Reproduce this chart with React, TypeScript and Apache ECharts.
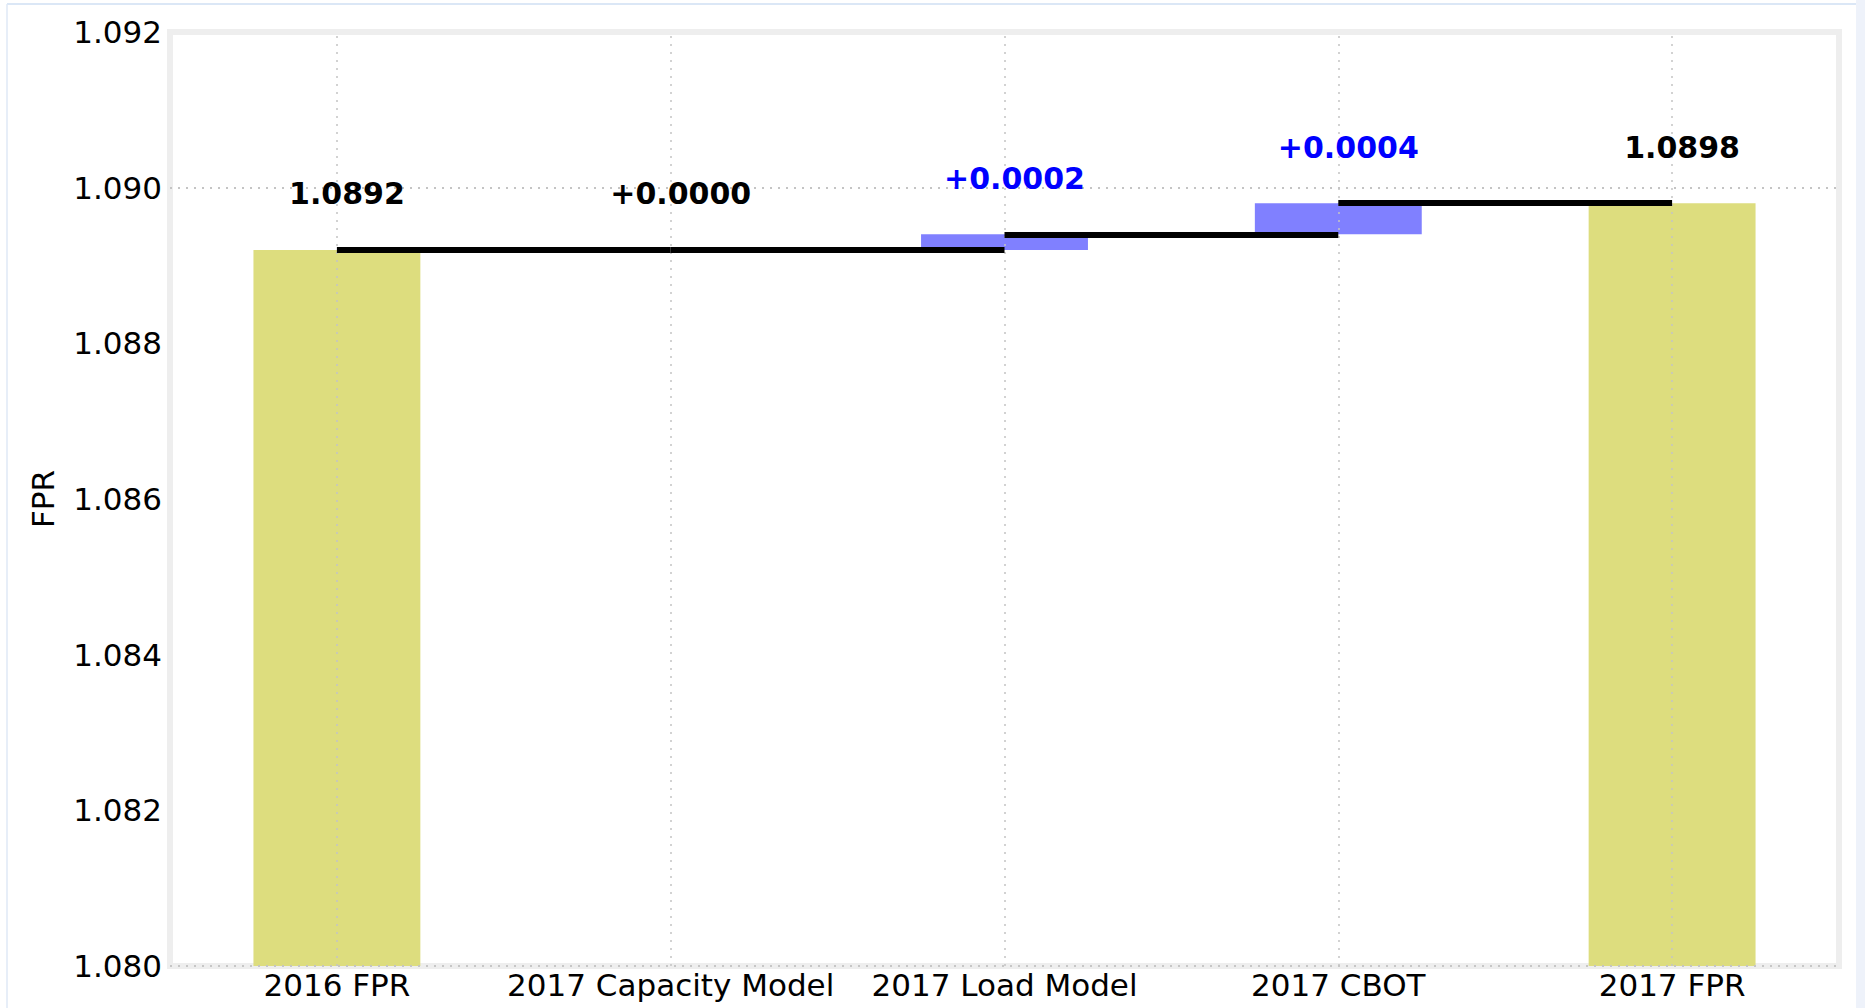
import React, { useEffect, useRef } from "react";
import * as echarts from "echarts";

const categories = ["2016 FPR", "2017 Capacity Model", "2017 Load Model", "2017 CBOT", "2017 FPR"];
const baseValues = [0, 1.0892, 1.0892, 1.0894, 0];
const barValues = [1.0892, 0, 0.0002, 0.0004, 1.0898];
const barKinds = ["total", "delta", "delta", "delta", "total"];
const labelTexts = ["1.0892", "+0.0000", "+0.0002", "+0.0004", "1.0898"];
const labelColors = ["#000000", "#000000", "#0000ff", "#0000ff", "#000000"];
const connectorLevels = [1.0892, 1.0892, 1.0894, 1.0898];
const yTicks = [1.082, 1.084, 1.086, 1.088, 1.09];
const yMin = 1.08;
const yMax = 1.092;
const yStep = 0.002;

const FONT = "DejaVu Sans";
const gridDot = { color: "#c4c4c4", width: 1.5, type: [2, 6] as number[] };

export default function App() {
  const ref = useRef<HTMLDivElement>(null);
  useEffect(() => {
    if (!ref.current) return;
    const chart = echarts.init(ref.current, null, { renderer: "svg" });
    const tops = baseValues.map((b, i) => b + barValues[i]);
    chart.setOption({
      animation: false,
      backgroundColor: "#ffffff",
      textStyle: { fontFamily: FONT },
      graphic: [
        { type: "line", shape: { x1: 7, y1: 4, x2: 1856, y2: 4 }, style: { stroke: "#cfdff3", lineWidth: 1.5 } },
        { type: "line", shape: { x1: 7, y1: 4, x2: 7, y2: 1008 }, style: { stroke: "#dfe8f6", lineWidth: 1.5 } },
        { type: "rect", shape: { x: 1856, y: 0, width: 9, height: 1008 }, style: { fill: "#eef2fa" } },
      ],
      grid: {
        left: 170,
        right: 26,
        top: 32,
        bottom: 42,
        show: true,
        borderColor: "#eeeeee",
        borderWidth: 6,
        backgroundColor: "#ffffff",
      },
      xAxis: {
        type: "category",
        data: categories,
        boundaryGap: true,
        axisLine: { show: false },
        axisTick: { show: false },
        splitLine: { show: false },
        axisLabel: { color: "#000", fontSize: 31, fontFamily: FONT, margin: 3, interval: 0 },
      },
      yAxis: {
        type: "value",
        min: yMin,
        max: yMax,
        interval: yStep,
        name: "FPR",
        nameLocation: "middle",
        nameGap: 112,
        nameTextStyle: { color: "#000", fontSize: 31, fontFamily: FONT },
        axisLine: { show: false },
        axisTick: { show: false },
        splitLine: { show: false },
        axisLabel: {
          color: "#000",
          fontSize: 31,
          fontFamily: FONT,
          margin: 8,
          formatter: (v: number) => v.toFixed(3),
        },
      },
      series: [
        {
          name: "base",
          type: "bar",
          stack: "w",
          z: 3,
          barWidth: "50%",
          data: baseValues,
          itemStyle: { color: "transparent" },
          silent: true,
          markLine: {
            silent: true,
            symbol: ["none", "none"],
            label: { show: false },
            lineStyle: gridDot,
            data: [
              ...categories.map((_, i) => ({ xAxis: i })),
              ...yTicks.map((v) => ({ yAxis: v })),
            ],
          },
        },
        {
          name: "value",
          type: "bar",
          stack: "w",
          z: 2,
          barWidth: "50%",
          data: barValues.map((v, i) => ({
            value: v,
            itemStyle: { color: barKinds[i] === "total" ? "#dddd7e" : "#8080ff" },
          })),
        },
        {
          name: "labels",
          type: "scatter",
          z: 5,
          symbolSize: 1,
          itemStyle: { color: "transparent", opacity: 1 },
          data: tops.map((t, i) => ({
            value: [i, t],
            label: {
              show: true,
              position: "inside",
              offset: [10, -56],
              formatter: labelTexts[i],
              color: labelColors[i],
              fontSize: 30,
              fontWeight: "bold",
              fontFamily: FONT,
            },
          })),
          markLine: {
            silent: true,
            symbol: ["none", "none"],
            label: { show: false },
            lineStyle: { color: "#000000", width: 6, type: "solid", opacity: 1 },
            data: connectorLevels.map((lv, i) => [
              { coord: [i, lv] },
              { coord: [i + 1, lv] },
            ]),
          },
        },
      ],
    });
    return () => chart.dispose();
  }, []);
  return (
    <div
      ref={ref}
      style={{ position: "absolute", left: 0, top: 0, width: 1865, height: 1008 }}
    />
  );
}
